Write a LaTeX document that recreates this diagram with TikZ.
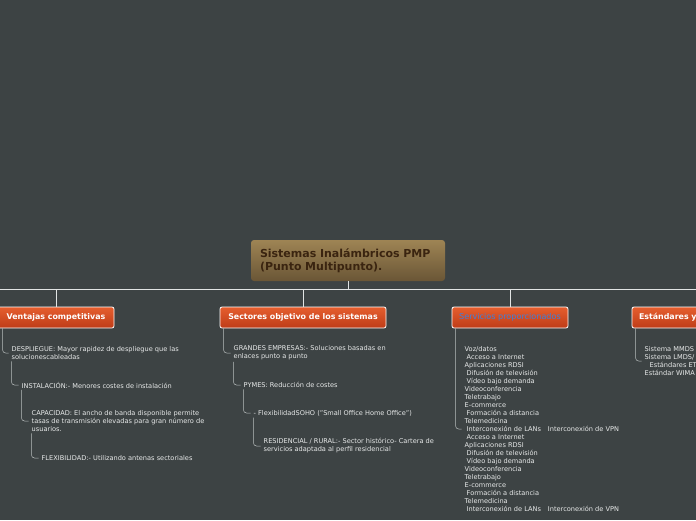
\documentclass[tikz,border=0pt]{standalone}
\usepackage{fontspec}
\setmainfont{DejaVu Sans}
\definecolor{MapBack}{RGB}{61, 67, 68}
\definecolor{LinkGrey}{RGB}{225, 228, 228}
\definecolor{SubGrey}{RGB}{185, 190, 190}
\definecolor{ItemText}{RGB}{232, 234, 234}
\definecolor{RootTop}{RGB}{158, 132, 84}
\definecolor{RootBottom}{RGB}{106, 86, 54}
\definecolor{RootInk}{RGB}{58, 36, 16}
\definecolor{BranchTop}{RGB}{230, 94, 46}
\definecolor{BranchBottom}{RGB}{190, 60, 24}
\definecolor{ServBlue}{RGB}{62, 128, 218}
\usetikzlibrary{positioning, calc}

\begin{document}
\begin{tikzpicture}[x=1pt, y=-1pt,
  root/.style={rounded corners=3pt, top color=RootTop, bottom color=RootBottom, text=RootInk,
    font=\bfseries\fontsize{11}{13.5}\selectfont, align=left, text width=176pt, inner xsep=9pt, minimum height=41pt},
  branch/.style={draw=white, line width=0.8pt, rounded corners=2pt, top color=BranchTop,
    bottom color=BranchBottom, text=white, font=\bfseries\fontsize{7.9}{9}\selectfont, minimum height=21pt},
  item/.style={anchor=west, align=left, text=ItemText, font=\fontsize{6.6}{8}\selectfont, inner sep=1.5pt},
  link/.style={draw=LinkGrey, line width=0.7pt},
  sublink/.style={draw=SubGrey, line width=0.5pt, rounded corners=3pt, shorten >=1.5pt}]
\useasboundingbox (0,0) rectangle (696,520);
\clip (0,0) rectangle (696,520);
\fill[MapBack] (0,0) rectangle (696,520);

% centre and the four branches
\node[root] (root) at (348,260.5) {Sistemas Inalámbricos PMP\\(Punto Multipunto).};
\coordinate (hub) at (348,289);
\coordinate (leftend) at (0,289);
\coordinate (rightend) at (696,289);
\node[branch, minimum width=116pt] (vent) at (56,317.5) {Ventajas competitivas};
\node[branch, minimum width=166pt] (sect) at (303,317.5) {Sectores objetivo de los sistemas};
\node[branch, minimum width=116pt, text=ServBlue, font=\fontsize{8.1}{9}\selectfont] (serv) at (510,317.5) {Servicios proporcionados};
\node[branch, text width=114pt, align=left, inner xsep=7pt] (est) at (696,317.5) {Estándares y};

\draw[link] (leftend) -- (rightend);
\draw[link] (root.south) -- (hub);
\draw[link] (hub) -| (vent.north);
\draw[link] (hub) -| (sect.north);
\draw[link] (hub) -| (serv.north);
\draw[link] (hub) -| (est.north);

% Ventajas competitivas
\node[item] (desp) at (10,353) {DESPLIEGUE: Mayor rapidez de despliegue que las\\solucionescableadas};
\node[item] (inst) at (20,385) {INSTALACIÓN:- Menores costes de instalación};
\node[item] (capa) at (30,421) {CAPACIDAD: El ancho de banda disponible permite\\tasas de transmisión elevadas para gran número de\\usuarios.};
\node[item] (flex) at (40,458) {FLEXIBILIDAD:- Utilizando antenas sectoriales};
\draw[sublink] ([xshift=5pt]vent.south west) |- (desp.west);
\draw[sublink] ([xshift=1.5pt]desp.south west) |- (inst.west);
\draw[sublink] ([xshift=1.5pt]inst.south west) |- (capa.west);
\draw[sublink] ([xshift=1.5pt]capa.south west) |- (flex.west);

% Sectores objetivo
\node[item] (gran) at (232,353) {GRANDES EMPRESAS:- Soluciones basadas en\\enlaces punto a punto};
\node[item] (pyme) at (242,385) {PYMES: Reducción de costes};
\node[item] (soho) at (252,413) {- FlexibilidadSOHO ("Small Office Home Office")};
\node[item] (resi) at (262,446) {RESIDENCIAL / RURAL:- Sector histórico- Cartera de\\servicios adaptada al perfil residencial};
\draw[sublink] ([xshift=4pt]sect.south west) |- (gran.west);
\draw[sublink] ([xshift=1.5pt]gran.south west) |- (pyme.west);
\draw[sublink] ([xshift=1.5pt]pyme.south west) |- (soho.west);
\draw[sublink] ([xshift=1.5pt]soho.south west) |- (resi.west);

% Servicios proporcionados
\node[item] (servlist) at (463,429) {Voz/datos\\
  \hspace*{2pt}Acceso a Internet\\
  Aplicaciones RDSI\\
  \hspace*{2pt}Difusión de televisión\\
  \hspace*{2pt}Vídeo bajo demanda\\
  Videoconferencia\\
  Teletrabajo\\
  E-commerce\\
  \hspace*{2pt}Formación a distancia\\
  Telemedicina\\
  \hspace*{2pt}Interconexión de LANs\hspace{7pt}Interconexión de VPN\\
  \hspace*{2pt}Acceso a Internet\\
  Aplicaciones RDSI\\
  \hspace*{2pt}Difusión de televisión\\
  \hspace*{2pt}Vídeo bajo demanda\\
  Videoconferencia\\
  Teletrabajo\\
  E-commerce\\
  \hspace*{2pt}Formación a distancia\\
  Telemedicina\\
  \hspace*{2pt}Interconexión de LANs\hspace{7pt}Interconexión de VPN};
\draw[sublink] ([xshift=4pt]serv.south west) |- (servlist.west);

% Estandares
\node[item] (estlist) at (643,361) {Sistema MMDS\\Sistema LMDS/\\\hspace*{5pt}Estándares ET\\Estándar WIMA};
\draw[sublink] ([xshift=4pt]est.south west) |- (estlist.west);
\end{tikzpicture}
\end{document}
